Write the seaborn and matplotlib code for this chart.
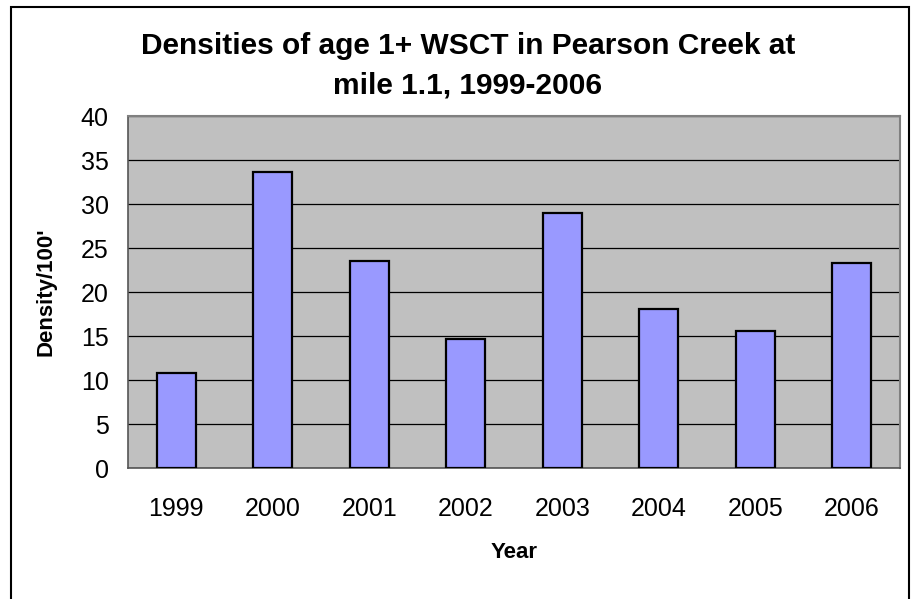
import numpy as np
import pandas as pd
import matplotlib
matplotlib.use('Agg')
import matplotlib.pyplot as plt
import seaborn as sns
from matplotlib.patches import Rectangle

# -------------------- data --------------------
years = ['1999', '2000', '2001', '2002', '2003', '2004', '2005', '2006']
density = [10.8, 33.6, 23.5, 14.7, 29.0, 18.1, 15.6, 23.3]

df = pd.DataFrame({'Year': years, 'Density': density})

# -------------------- style --------------------
sns.set_style('white')
plt.rcParams['font.family'] = ['Liberation Sans', 'DejaVu Sans']
plt.rcParams['text.color'] = 'black'
plt.rcParams['axes.labelcolor'] = 'black'
plt.rcParams['xtick.labelcolor'] = 'black'
plt.rcParams['ytick.labelcolor'] = 'black'

fig = plt.figure(figsize=(9.17, 5.99), dpi=100)
ax = fig.add_axes([128 / 917, 1 - 468 / 599, (900 - 128) / 917, (468 - 116) / 599])
ax.set_facecolor('#c0c0c0')

sns.barplot(data=df, x='Year', y='Density', color='#9999ff', width=0.4,
            edgecolor='black', linewidth=1.6, saturation=1, ax=ax, zorder=3)

# grid lines (excel style)
ax.set_ylim(0, 40)
ax.set_xlim(-0.5, len(years) - 0.5)
ax.set_yticks(np.arange(0, 41, 5))
ax.yaxis.grid(True, color='black', linewidth=0.9, zorder=1)
ax.set_axisbelow(True)

# ticks between categories
ax.set_xticks(np.arange(len(years)))
ax.set_xticklabels(years)
ax.set_xticks(np.arange(-0.5, len(years), 1), minor=True)
ax.tick_params(axis='x', which='major', length=0, pad=21, labelsize=18)
ax.tick_params(axis='x', which='minor', length=6, width=1, color='#555555', direction='out')
ax.tick_params(axis='y', which='major', length=6, width=1, color='#333333', direction='out',
               labelsize=18, pad=8)

for side in ['top', 'right']:
    ax.spines[side].set_color('#808080')
    ax.spines[side].set_linewidth(1.5)
ax.spines['left'].set_color('#555555')
ax.spines['bottom'].set_color('#555555')
ax.spines['left'].set_linewidth(1.2)
ax.spines['bottom'].set_linewidth(1.2)
for s in ax.spines.values():
    s.set_visible(True)

ax.set_xlabel('Year', fontsize=16, fontweight='bold')
ax.set_ylabel("Density/100'", fontsize=16, fontweight='bold')
ax.xaxis.set_label_coords(0.5, -(542 - 468) / 352)
ax.yaxis.set_label_coords(-(128 - 57) / 772, 0.5)

fig.text(468 / 917, 1 - 66 / 599,
         'Densities of age 1+ WSCT in Pearson Creek at\nmile 1.1, 1999-2006',
         ha='center', va='center', fontsize=21.5, fontweight='bold', linespacing=1.5)

# chart border
fig.patches.append(Rectangle((11 / 917, -0.02), (909 - 11) / 917, 1 - 7 / 599 + 0.02,
                             transform=fig.transFigure, fill=False,
                             edgecolor='black', linewidth=1.5))

fig.savefig('out.png', dpi=100)
